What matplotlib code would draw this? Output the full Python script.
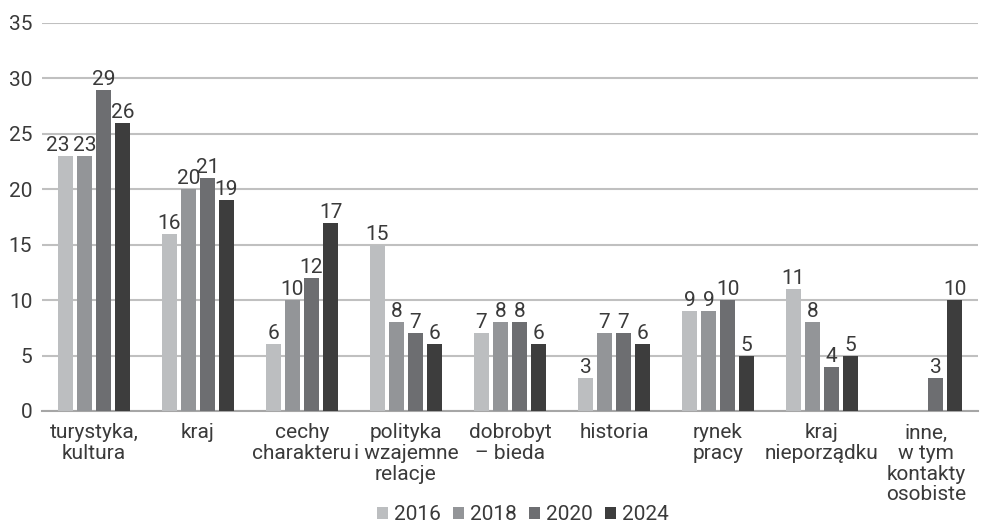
import numpy as np
import matplotlib
matplotlib.use("Agg")
import matplotlib.pyplot as plt

plt.rcParams['font.family'] = ['Roboto', 'DejaVu Sans']

categories = ["turystyka,\nkultura", "kraj", "cechy\ncharakteru", "polityka\ni wzajemne\nrelacje",
              "dobrobyt\n– bieda", "historia", "rynek\npracy", "kraj\nnieporządku",
              "inne,\nw tym\nkontakty\nosobiste"]
years = ["2016", "2018", "2020", "2024"]
v2016 = [23, 16, 6, 15, 7, 3, 9, 11, None]
v2018 = [23, 20, 10, 8, 8, 7, 9, 8, None]
v2020 = [29, 21, 12, 7, 8, 7, 10, 4, 3]
v2024 = [26, 19, 17, 6, 6, 6, 5, 5, 10]
series = [v2016, v2018, v2020, v2024]
colors = ["#bcbec0", "#939598", "#6d6e71", "#3d3d3d"]
text_col = "#3a3a3a"
fs = 15
fw = 'normal'

fig = plt.figure(figsize=(9.82, 5.24), dpi=100)
ax = fig.add_axes([42/982, 113/524, 936/982, 388/524])

x = np.arange(len(categories))
bw = 0.144
step = 0.183
for i, (vals, c, yr) in enumerate(zip(series, colors, years)):
    off = (i - 1.5) * step
    xs = [xi + off for xi, v in zip(x, vals) if v is not None]
    vs = [v for v in vals if v is not None]
    bars = ax.bar(xs, vs, bw, color=c, label=yr, zorder=3)
    for j, (b, v) in enumerate(zip(bars, vs)):
        dx = -8 if (i == 0 and j == 0) else 0
        ax.annotate(str(v), (b.get_x() + b.get_width()/2, v), xytext=(dx, 1),
                    textcoords='offset pixels', ha='center', va='bottom',
                    fontsize=fs, color=text_col, fontweight=fw)

ax.set_xlim(-0.5, len(categories) - 0.5)
ax.set_ylim(0, 35)
ax.set_yticks(range(0, 36, 5))
ax.yaxis.grid(True, color="#c0c0c0", linewidth=1.5, zorder=0)
ax.set_axisbelow(True)
for s in ['top', 'right', 'left']:
    ax.spines[s].set_visible(False)
ax.spines['bottom'].set_color("#a6a6a6")
ax.spines['bottom'].set_linewidth(1.5)
ax.tick_params(length=0, labelsize=fs, colors=text_col)
ax.tick_params(axis='y', pad=7)
ax.tick_params(axis='x', pad=9)
ax.set_xticks(x)
ax.set_xticklabels(categories, linespacing=1.1)
for lab in ax.get_xticklabels() + ax.get_yticklabels():
    lab.set_fontweight(fw)

leg = fig.legend(loc='center', bbox_to_anchor=(523/982, 9/524), ncol=4, frameon=False,
                 fontsize=fs, handlelength=0.5, handleheight=0.5, handletextpad=0.3,
                 columnspacing=0.6, borderpad=0)
for t in leg.get_texts():
    t.set_color(text_col)
    t.set_fontweight(fw)

fig.savefig("out.png", dpi=100)
